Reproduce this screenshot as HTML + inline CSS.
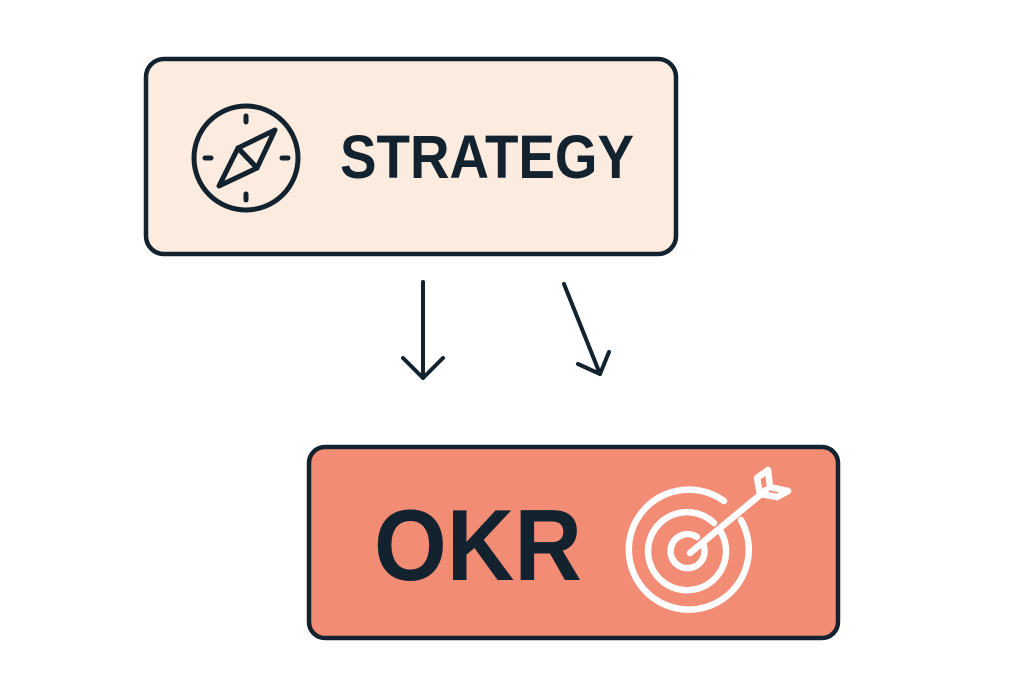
<!DOCTYPE html>
<html><head><style>body{margin:0;background:#fff}svg{display:block}</style></head>
<body>
<svg width="1024" height="683" viewBox="0 0 1024 683" xmlns="http://www.w3.org/2000/svg">
<rect x="146" y="59" width="530" height="195" rx="18" fill="#fcecdf" stroke="#13222f" stroke-width="4.5"/>
<g stroke="#13222f" fill="none" stroke-width="5" stroke-linecap="round" stroke-linejoin="round">
<circle cx="246" cy="158" r="52"/>
<line x1="246" y1="116" x2="246" y2="122"/><line x1="246" y1="194" x2="246" y2="200"/>
<line x1="205" y1="158" x2="211" y2="158"/><line x1="282" y1="158" x2="288" y2="158"/>
<polygon points="275,130 257,168 238,148"/><polygon points="219,186 238,148 257,168"/>
<line x1="238" y1="148" x2="257" y2="168"/>
</g>
<text x="340" y="178" font-family="Liberation Sans, sans-serif" font-weight="bold" font-size="61" fill="#13222f" textLength="294" lengthAdjust="spacingAndGlyphs">STRATEGY</text>
<g stroke="#13222f" fill="none" stroke-width="4" stroke-linecap="round" stroke-linejoin="round">
<line x1="423" y1="282" x2="423" y2="378"/><polyline points="403,358 423,378 443,358"/>
<line x1="564" y1="284" x2="600" y2="374"/><polyline points="578,364 600,374 609,352"/>
</g>
<rect x="309" y="447" width="529" height="191" rx="16" fill="#f28c75" stroke="#13222f" stroke-width="4.5"/>
<text x="374" y="580" font-family="Liberation Sans, sans-serif" font-weight="bold" font-size="101" fill="#13222f" textLength="208" lengthAdjust="spacingAndGlyphs">OKR</text>
<g stroke="#fff" fill="none" stroke-width="6.5" stroke-linecap="round" stroke-linejoin="round">
<path d="M724,501 A60,60 0 1 0 741,520"/>
<path d="M714,523 A39,39 0 1 0 721,532"/>
<path d="M697,537 A17,17 0 1 0 703,544"/>
<line x1="690" y1="553" x2="766" y2="490"/>
<polyline points="757,478 760,494 777,497"/>
<polyline points="768,470 770,487 788,491"/>
<line x1="768" y1="470" x2="757" y2="478"/>
<line x1="788" y1="491" x2="777" y2="497"/>
</g>
</svg>
</body></html>
